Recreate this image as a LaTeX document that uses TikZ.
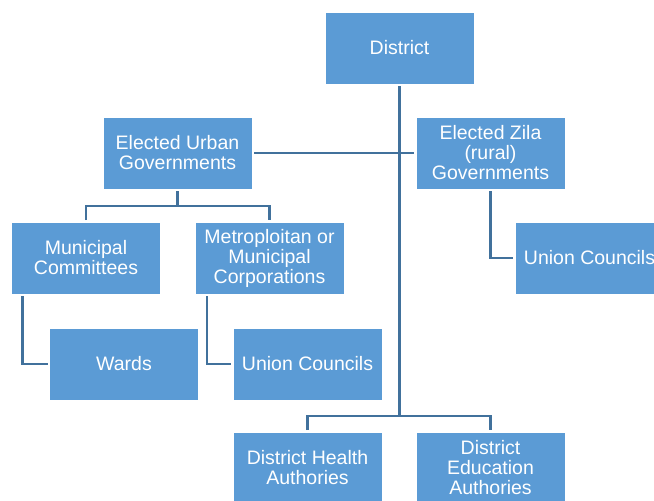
\documentclass[tikz,border=0pt]{standalone}
\usepackage{fontspec}
\setmainfont{Liberation Sans}
\usetikzlibrary{scopes}
\definecolor{boxblue}{RGB}{91,155,213}
\definecolor{linkblue}{RGB}{65,113,156}

\begin{document}
\begin{tikzpicture}[
    x=1pt,y=-1pt,
    unit/.style={rectangle,draw=white,line width=0.8pt,fill=boxblue,text=white,
        minimum width=149pt,minimum height=72pt,inner sep=0pt,outer sep=2pt,
        align=center,font=\fontsize{19.5}{20}\selectfont},
    link/.style={color=linkblue,line width=2.2pt},
]
\clip (0,0) rectangle (654,501);

%% Top level
\node[unit] (district) at (399.5,48) {District};

%% Second level
\node[unit] (urban) at (177.5,153) {Elected Urban\\Governments};
\node[unit] (zila) at (490.5,153) {Elected Zila\\(rural)\\Governments};

%% Urban branch
\node[unit] (committees) at (86,258) {Municipal\\Committees};
\node[unit] (corporations) at (269.5,258) {Metroploitan or\\Municipal\\Corporations};
\node[unit] (wards) at (124,364) {Wards};
\node[unit] (unionurban) at (307.5,364) {Union Councils};

%% Rural branch
\node[unit] (unionrural) at (589.5,258) {Union Councils};

%% Authorities, cut by the lower edge
\node[unit] (health) at (307.5,468) {District Health\\Authories};
\node[unit] (education) at (490.5,468) {District\\Education\\Authories};

% Split points of the brackets
\coordinate (urbansplit) at (177.5,206);
\coordinate (authsplit) at (399.5,416);

% Connectors
{[link]
    \draw (district.south) -- (authsplit);
    \draw (urban.east) -- (zila.west);
    \draw (urban.south) -- (urbansplit);
    \draw (committees.north) |- (urbansplit) -| (corporations.north);
    \draw (health.north) |- (authsplit) -| (education.north);
    \draw ([xshift=13pt]committees.south west) |- (wards.west);
    \draw ([xshift=14pt]corporations.south west) |- (unionurban.west);
    \draw (zila.south) |- (unionrural.west);
}
\end{tikzpicture}
\end{document}
